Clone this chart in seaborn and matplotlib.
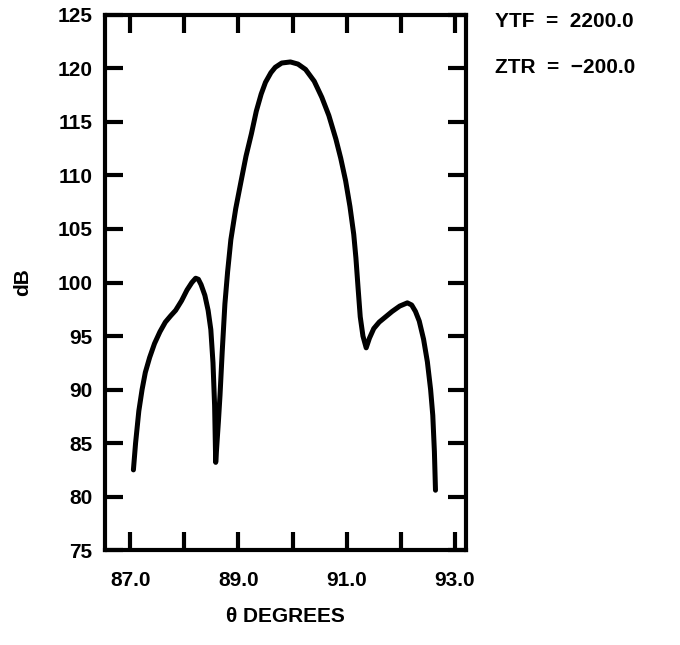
import matplotlib
matplotlib.use("Agg")
import matplotlib.pyplot as plt
import seaborn as sns
import pandas as pd

theta_deg = [87.06, 87.10, 87.16, 87.22, 87.28, 87.36, 87.45, 87.55, 87.65, 87.75, 87.84,
             87.95, 88.05, 88.14, 88.21, 88.26, 88.31, 88.38, 88.44, 88.49, 88.53,
             88.56, 88.58, 88.61, 88.63, 88.66, 88.70, 88.75, 88.80, 88.86, 88.95,
             89.05, 89.14, 89.24, 89.33, 89.42, 89.50, 89.60, 89.68, 89.80, 89.96,
             90.10, 90.24, 90.40, 90.54, 90.67, 90.80, 90.89, 90.98, 91.06, 91.13,
             91.17, 91.21, 91.25, 91.30, 91.36, 91.42, 91.50, 91.60, 91.72, 91.84,
             91.98, 92.12, 92.20, 92.27, 92.34, 92.42, 92.49, 92.55, 92.59, 92.62, 92.64]
gain_db = [82.5, 85.0, 88.0, 90.0, 91.6, 93.0, 94.3, 95.4, 96.3, 96.9, 97.4,
           98.3, 99.3, 100.0, 100.4, 100.3, 99.8, 98.8, 97.4, 95.6, 92.5,
           88.5, 83.2, 85.5, 87.0, 89.5, 93.5, 98.0, 101.0, 104.0, 106.9,
           109.5, 111.8, 113.9, 116.0, 117.6, 118.7, 119.6, 120.1, 120.5, 120.6,
           120.4, 119.9, 118.8, 117.3, 115.6, 113.4, 111.6, 109.5, 107.1, 104.5,
           102.3, 99.5, 96.8, 95.0, 93.9, 94.8, 95.7, 96.3, 96.8, 97.3,
           97.8, 98.1, 97.9, 97.3, 96.4, 94.7, 92.6, 90.0, 87.6, 84.2, 80.6]

x_ticks = [87.0, 88.0, 89.0, 90.0, 91.0, 92.0, 93.0]
x_tick_labels = ["87.0", "", "89.0", "", "91.0", "", "93.0"]
y_ticks = [75, 80, 85, 90, 95, 100, 105, 110, 115, 120, 125]
annotations = ["YTF  =  2200.0", "ZTR  =  \u2212200.0"]

sns.set_theme(style="white")
plt.rcParams["font.family"] = ["Liberation Sans", "DejaVu Sans"]
plt.rcParams["text.color"] = "black"
plt.rcParams["axes.labelcolor"] = "black"

df = pd.DataFrame({"theta": theta_deg, "dB": gain_db})

fig = plt.figure(figsize=(6.8, 6.45), dpi=100)
ax = fig.add_axes([0.154, 0.147, 0.531, 0.830])
sns.lineplot(data=df, x="theta", y="dB", sort=False, estimator=None,
             color="black", linewidth=3.6, ax=ax)

ax.set_xlim(86.53, 93.2)
ax.set_ylim(75, 125)
ax.set_xticks(x_ticks)
ax.set_xticklabels(x_tick_labels)
ax.set_yticks(y_ticks)
ax.set_yticklabels([str(v) for v in y_ticks])

for s in ax.spines.values():
    s.set_linewidth(3)
    s.set_color("black")
    s.set_visible(True)

ax.tick_params(axis="both", which="major", direction="in", length=13, width=3,
               color="black", top=True, right=True, bottom=True, left=True,
               labelsize=15, labelcolor="black")
ax.tick_params(axis="x", pad=15)
ax.tick_params(axis="y", pad=9)
for lab in ax.get_xticklabels() + ax.get_yticklabels():
    lab.set_fontweight("heavy")

ax.set_xlabel("\u03b8 DEGREES", fontsize=15, fontweight="heavy", labelpad=12, color="black")
ax.set_ylabel("dB", fontsize=15, fontweight="heavy", labelpad=18, color="black")

fig.text(0.728, 0.966, annotations[0], fontsize=15, fontweight="bold", va="center", ha="left", color="black")
fig.text(0.728, 0.895, annotations[1], fontsize=15, fontweight="bold", va="center", ha="left", color="black")

fig.savefig("out.png", dpi=100)
